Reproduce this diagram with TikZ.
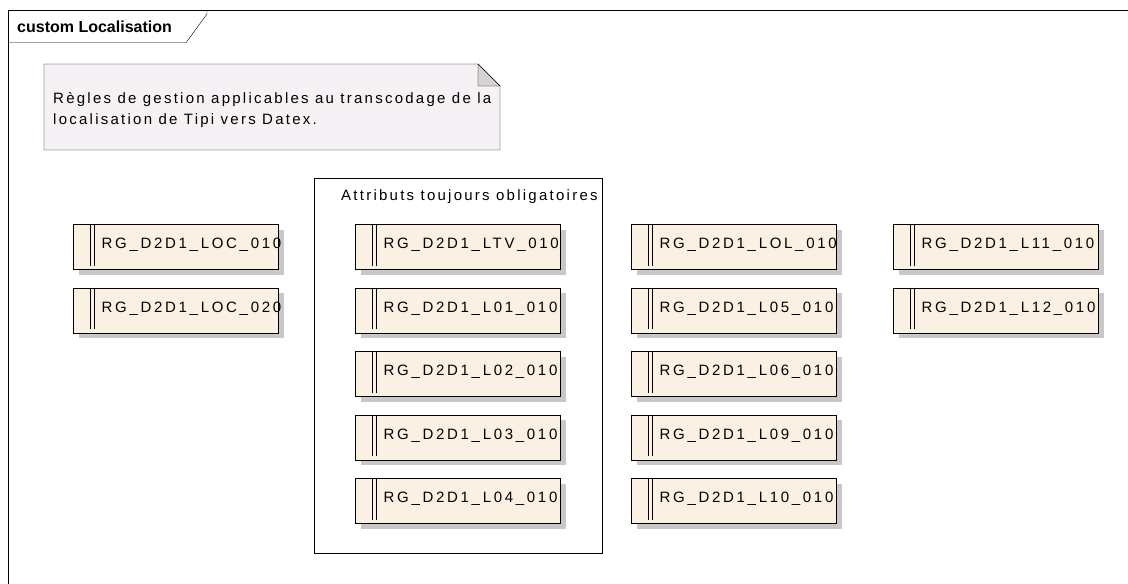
\documentclass[tikz,border=0pt]{standalone}
\usepackage{fontspec}
\setmainfont{Liberation Sans}
\newfontfamily\reqfont[LetterSpace=18]{Liberation Sans}
\newfontfamily\spacedfont[LetterSpace=15]{Liberation Sans}
\usetikzlibrary{shadows}
\definecolor{reqfill}{HTML}{FBF1E3}
\definecolor{notefill}{HTML}{F5F1F5}
\definecolor{foldgray}{HTML}{D4D4D4}
\definecolor{shadowgray}{HTML}{C8C8C8}
\tikzset{
  req/.style={draw, line width=1.3pt, fill=reqfill, anchor=north west,
    minimum height=45pt, text width=205pt, inner xsep=0pt, inner ysep=0pt,
    text height=11pt, text depth=8pt,
    align=left, font=\reqfont\fontsize{15}{17}\selectfont,
    drop shadow={shadow xshift=5pt, shadow yshift=-5pt, fill=shadowgray, opacity=1},
    execute at begin node={\hspace*{28pt}},
    path picture={
      \draw[line width=1.2pt] ([xshift=16.5pt]path picture bounding box.north west)
        -- ([xshift=16.5pt,yshift=4pt]path picture bounding box.south west);
      \draw[line width=1.2pt] ([xshift=20.5pt]path picture bounding box.north west)
        -- ([xshift=20.5pt,yshift=4pt]path picture bounding box.south west);
    }},
  plain/.style={font=\spacedfont\fontsize{15}{21.3}\selectfont, inner sep=0pt, align=left}
}

\begin{document}
\begin{tikzpicture}[x=1pt, y=-1pt]
\useasboundingbox (0,0) rectangle (1128,584);
% frame and title tab
\draw (8,584) -- (8,10) -- (1128,10);
\draw (8,42.7) -- (186,42.7) -- (207,14) -- (207,10);
\node[anchor=west, inner sep=0pt, font=\bfseries\fontsize{16}{18}\selectfont] (title) at (17,26.5) {custom Localisation};

% note
\draw[fill=notefill] (44,64) -- (478,64) -- (500,86) -- (500,150) -- (44,150) -- cycle;
\draw[fill=foldgray] (478,64) -- (478,86) -- (500,86) -- cycle;
\node[plain, anchor=north west] (note) at (53,92) {R\`egles de gestion applicables au transcodage de la\\localisation de Tipi vers Datex.};

% boundary
\draw (314,178) rectangle (602,553);
\node[plain, anchor=west] (boundary) at (341,197) {Attributs toujours obligatoires};

% requirements
\foreach \id/\px/\py in {LOC_010/73/224, LOC_020/73/287.5,
    LTV_010/355/224, L01_010/355/287.5, L02_010/355/351, L03_010/355/414.5, L04_010/355/478,
    LOL_010/631/224, L05_010/631/287.5, L06_010/631/351, L09_010/631/414.5, L10_010/631/478,
    L11_010/893/224, L12_010/893/287.5}
{
    \node[req] (\id) at (\px,\py) {RG\_D2D1\_\detokenize\expandafter{\id}};
}

\end{tikzpicture}
\end{document}
